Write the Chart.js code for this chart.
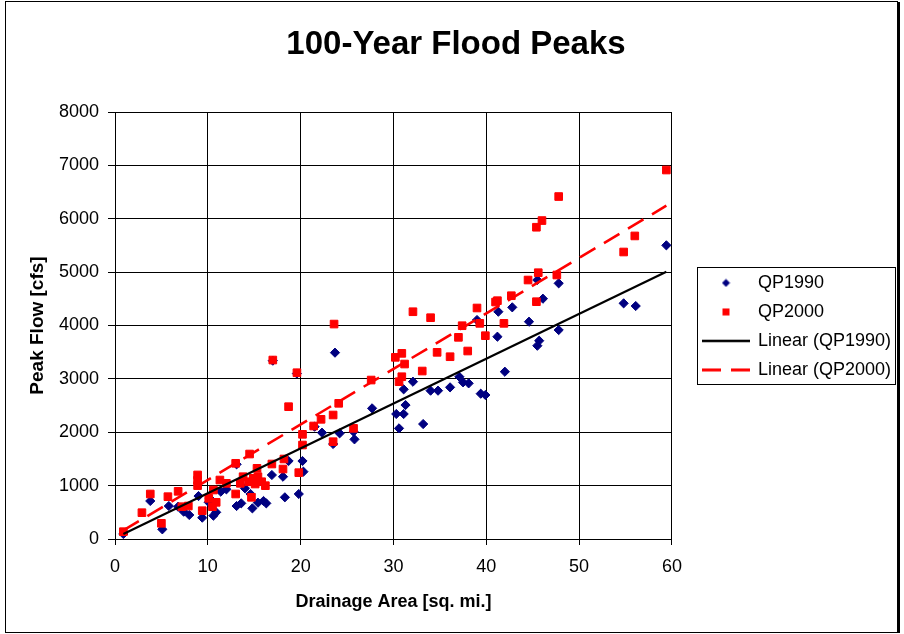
<!DOCTYPE html>
<html>
<head>
<meta charset="utf-8">
<script src="https://cdn.jsdelivr.net/npm/chart.js@4/dist/chart.umd.min.js"></script>
<style>
html,body{margin:0;padding:0;background:#fff;}
#wrap{width:904px;height:634px;position:relative;}
</style>
</head>
<body>
<div id="wrap"><canvas id="c" width="904" height="634"></canvas></div>
<script>
// ---- data ----
const qp1990X = [0.9,3.8,5.1,5.8,6.8,7.4,8.0,9.0,9.4,10.1,10.2,10.6,10.9,11.4,12.0,13.1,13.1,13.6,14.0,14.6,14.8,15.4,16.0,16.3,16.9,17.0,18.1,18.3,18.7,19.6,19.8,20.2,20.3,21.5,22.3,23.5,23.7,24.2,25.7,25.8,27.7,30.3,30.6,31.1,31.1,31.3,32.1,33.2,34.0,34.8,36.1,37.1,37.5,38.1,39.0,39.4,39.9,41.2,41.3,42.0,42.8,44.6,45.5,45.7,45.5,46.1,47.8,47.8,54.8,56.1,59.4];
const qp1990Y = [94,712,181,618,605,512,450,805,400,687,762,437,500,887,930,1399,618,668,949,843,574,680,712,668,1199,3341,1167,781,1461,3100,843,1461,1261,2104,1992,1780,3491,1980,2011,1867,2448,2342,2073,2342,2804,2510,2947,2154,2779,2779,2841,3040,2935,2916,4103,2722,2698,3790,4258,3134,4340,4071,3621,3715,4852,4502,3915,4790,4415,4365,5502];
const qp2000X = [0.9,2.9,3.8,5.0,5.7,6.8,7.2,7.9,8.9,8.9,8.9,9.4,10.1,10.6,10.9,10.5,11.3,12.0,13.0,13.0,13.5,13.8,14.4,14.5,14.7,14.9,15.1,15.3,15.4,15.8,16.2,16.9,17.0,18.1,18.2,18.7,19.6,19.8,20.2,20.2,21.4,22.2,23.5,23.5,23.6,24.1,25.7,27.6,30.2,30.6,30.9,30.9,31.2,32.1,33.1,34.0,34.7,36.1,37.0,37.4,38.0,39.0,39.3,39.9,41.0,41.2,41.9,42.7,44.5,45.4,45.4,45.6,46.0,47.6,47.8,54.8,56.0,59.4];
const qp2000Y = [137,493,843,294,793,893,605,618,1200,1100,1000,530,762,918,687,605,1105,1043,843,1418,1043,1167,1073,1592,781,1137,1030,1324,1167,1073,999,1405,3353,1311,1499,2479,3115,1243,1961,1761,2117,2242,2323,1823,4027,2542,2073,2978,3403,2947,3478,3040,3278,4258,3147,4146,3497,3415,3778,3996,3522,4328,4040,3809,4440,4465,4040,4558,4852,4446,5841,4989,5966,4946,6416,5377,5678,6913];
const trend1990X = [0.9, 59.4];
const trend1990Y = [94, 5008];
const trend2000X = [0.9, 59.4];
const trend2000Y = [160, 6244];
const xTicks = [0,10,20,30,40,50,60];
const yTicks = [0,1000,2000,3000,4000,5000,6000,7000,8000];
const seriesNames = ['QP1990','QP2000','Linear (QP1990)','Linear (QP2000)'];
const chartTitle = '100-Year Flood Peaks';
const xTitle = 'Drainage Area [sq. mi.]';
const yTitle = 'Peak Flow [cfs]';

const pts = (xs, ys) => xs.map((x, i) => ({x: x, y: ys[i]}));

// legend symbol images
function mk(w, h, fn){ const c = document.createElement('canvas'); c.width = w; c.height = h; fn(c.getContext('2d')); return c; }
const NAVY = '#000080', RED = '#FF0000';
const legDiamond = mk(9, 9, g => { g.fillStyle = NAVY; g.beginPath(); g.moveTo(4.5,0.5); g.lineTo(8.5,4.5); g.lineTo(4.5,8.5); g.lineTo(0.5,4.5); g.closePath(); g.fill(); });
const legSquare = mk(8, 8, g => { g.fillStyle = RED; g.fillRect(0.5,0.5,7,7); });
const legSolid = mk(48, 4, g => { g.strokeStyle = '#000'; g.lineWidth = 2.5; g.beginPath(); g.moveTo(0,2); g.lineTo(48,2); g.stroke(); });
const legDash = mk(48, 4, g => { g.strokeStyle = RED; g.lineWidth = 3; g.beginPath(); g.moveTo(0,2); g.lineTo(19,2); g.moveTo(29,2); g.lineTo(48,2); g.stroke(); });
const legImgs = [legDiamond, legSquare, legSolid, legDash];

const FONT = '"Liberation Sans", Arial, sans-serif';
Chart.defaults.font.family = FONT;
Chart.defaults.color = '#000';

const frame = {
  id: 'frame',
  beforeDraw(chart){
    const g = chart.ctx;
    g.save();
    g.fillStyle = '#fff';
    g.fillRect(0,0,chart.width,chart.height);
    g.restore();
  },
  afterLayout(chart){
    const lg = chart.legend;
    if (lg) {
      const dx = 703 - (lg.left + 11);
      lg.left += dx; lg.right += dx;
      lg.top += 18; lg.bottom += 18;
    }
    const tb = chart.titleBlock;
    if (tb) {
      const dx = 456 - (tb.left + tb.right) / 2;
      tb.left += dx; tb.right += dx;
    }
  },
  afterDraw(chart){
    const g = chart.ctx;
    g.save();
    g.strokeStyle = '#000';
    g.lineWidth = 1;
    g.strokeRect(5.5, 1.5, 892, 631);
    g.lineWidth = 2;
    g.beginPath(); g.moveTo(899, 2); g.lineTo(899, 633); g.stroke();
    const hb = chart.legend.legendHitBoxes;
    if (hb && hb.length){
      let l = Infinity, t = Infinity, r = -Infinity, b = -Infinity;
      hb.forEach(h => { l = Math.min(l, h.left); t = Math.min(t, h.top); r = Math.max(r, h.left + h.width); b = Math.max(b, h.top + h.height); });
      g.lineWidth = 1;
      g.strokeRect(Math.round(l - 6) + 0.5, Math.round(t - 7) + 0.5, Math.round(r - l + 10), Math.round(b - t + 12));
    }
    g.restore();
  }
};

new Chart(document.getElementById('c'), {
  type: 'scatter',
  data: {
    datasets: [
      { label: seriesNames[0], data: pts(qp1990X, qp1990Y), pointStyle: 'rectRot', pointRadius: 4.6, pointHoverRadius: 4.6,
        backgroundColor: NAVY, borderColor: NAVY, borderWidth: 1, order: 3 },
      { label: seriesNames[1], data: pts(qp2000X, qp2000Y), pointStyle: 'rect', pointRadius: 5.4, pointHoverRadius: 5.4,
        backgroundColor: RED, borderColor: RED, borderWidth: 1, order: 2 },
      { label: seriesNames[2], data: pts(trend1990X, trend1990Y), showLine: true, pointRadius: 0, pointHoverRadius: 0,
        borderColor: '#000', borderWidth: 2.2, backgroundColor: '#000', order: 1 },
      { label: seriesNames[3], data: pts(trend2000X, trend2000Y), showLine: true, pointRadius: 0, pointHoverRadius: 0,
        borderColor: RED, borderWidth: 2.6, borderDash: [18, 10], backgroundColor: RED, order: 0 }
    ]
  },
  options: {
    responsive: false,
    animation: false,
    events: [],
    layout: { padding: { left: 8, right: 23, top: 0, bottom: 17.2 } },
    plugins: {
      tooltip: { enabled: false },
      title: { display: true, text: chartTitle, color: '#000',
        font: { size: 33, weight: 'bold', family: FONT },
        padding: { top: 25.2, bottom: 47.2 } },
      legend: {
        position: 'right',
        labels: {
          usePointStyle: true, pointStyleWidth: 46, boxHeight: 8,
          padding: 11, color: '#000',
          font: { size: 18, family: FONT },
          generateLabels(chart){
            return chart.data.datasets.map((d, i) => ({
              text: d.label, pointStyle: legImgs[i], fillStyle: d.backgroundColor,
              strokeStyle: d.borderColor, lineWidth: 0, hidden: false, datasetIndex: i, fontColor: '#000'
            }));
          }
        }
      }
    },
    scales: {
      x: {
        type: 'linear', min: 0, max: 60,
        afterBuildTicks(s){ s.ticks = xTicks.map(v => ({value: v})); },
        grid: { color: '#000', lineWidth: 1, tickLength: 6, drawTicks: true },
        border: { color: '#000', width: 1 },
        ticks: { padding: 11, font: { size: 18, family: FONT }, color: '#000', maxRotation: 0, callback: v => String(v) },
        title: { display: true, text: xTitle, color: '#000', font: { size: 18, weight: 'bold', family: FONT }, padding: { top: 2.6, bottom: 4 } }
      },
      y: {
        type: 'linear', min: 0, max: 8000,
        afterBuildTicks(s){ s.ticks = yTicks.map(v => ({value: v})); },
        afterFit(s){ s.width = 107; },
        grid: { color: '#000', lineWidth: 1, tickLength: 7, drawTicks: true },
        border: { color: '#000', width: 1 },
        ticks: { padding: 9, font: { size: 18, family: FONT }, color: '#000', callback: v => String(v) },
        title: { display: true, text: yTitle, color: '#000', font: { size: 19, weight: 'bold', family: FONT }, padding: { top: 18.5, bottom: 0 } }
      }
    }
  },
  plugins: [frame]
});
</script>
</body>
</html>
